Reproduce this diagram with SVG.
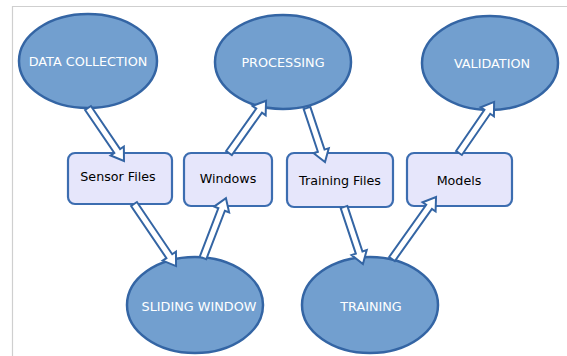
<svg xmlns="http://www.w3.org/2000/svg" width="567" height="356" viewBox="0 0 567 356">
<style>
.bg{fill:#fff}
.frame{fill:none;stroke:#cfcfcf;stroke-width:1.2}
.ell{fill:#729fcf;stroke:#3465a4;stroke-width:2.5}
.box{fill:#e6e6fb;stroke:#3c6db0;stroke-width:2.2}
.et{font-family:"DejaVu Sans",sans-serif;font-size:12.8px;fill:#fff;text-anchor:middle}
.bt{font-family:"DejaVu Sans",sans-serif;font-size:12.7px;fill:#000;text-anchor:middle}
.arr{fill:#fff;stroke:#3465a4;stroke-width:2;stroke-linejoin:miter}
</style>
<rect class="bg" x="0" y="0" width="567" height="356"/>
<path class="frame" d="M12.5,356 V6.5 H567"/>
<g id="data-collection"><ellipse class="ell" cx="88" cy="61" rx="69" ry="47"/><text class="et" x="88" y="66">DATA COLLECTION</text></g>
<g id="processing"><ellipse class="ell" cx="283" cy="62" rx="68" ry="47"/><text class="et" x="283" y="67">PROCESSING</text></g>
<g id="validation"><ellipse class="ell" cx="490" cy="63" rx="68" ry="47"/><text class="et" x="492" y="68">VALIDATION</text></g>
<g id="sliding-window"><ellipse class="ell" cx="195" cy="305" rx="68" ry="48"/><text class="et" x="199" y="311">SLIDING WINDOW</text></g>
<g id="training"><ellipse class="ell" cx="370" cy="305" rx="68" ry="48"/><text class="et" x="371" y="311">TRAINING</text></g>
<g id="sensor-files"><rect class="box" x="68" y="153" width="104" height="51" rx="7"/><text class="bt" x="118" y="181">Sensor Files</text></g>
<g id="windows"><rect class="box" x="184" y="153" width="88" height="53" rx="7"/><text class="bt" x="228" y="183">Windows</text></g>
<g id="training-files"><rect class="box" x="287" y="153" width="106" height="54" rx="7"/><text class="bt" x="340" y="185">Training Files</text></g>
<g id="models"><rect class="box" x="407" y="153" width="105" height="53" rx="7"/><text class="bt" x="459" y="185">Models</text></g>
<g id="connectors">
<polygon class="arr" transform="translate(88,108) rotate(55.8)" points="0,-3.5 52,-3.5 52,-8 64,0 52,8 52,3.5 0,3.5"/>
<polygon class="arr" transform="translate(134,204) rotate(55.9)" points="0,-3.5 63,-3.5 63,-8 75,0 63,8 63,3.5 0,3.5"/>
<polygon class="arr" transform="translate(203,258) rotate(-69)" points="0,-3.5 52,-3.5 52,-8 64,0 52,8 52,3.5 0,3.5"/>
<polygon class="arr" transform="translate(229,153) rotate(-54.6)" points="0,-3.5 52,-3.5 52,-8 64,0 52,8 52,3.5 0,3.5"/>
<polygon class="arr" transform="translate(307,108) rotate(71.6)" points="0,-3.5 45,-3.5 45,-8 57,0 45,8 45,3.5 0,3.5"/>
<polygon class="arr" transform="translate(344,207) rotate(71.6)" points="0,-3.5 48,-3.5 48,-8 60,0 48,8 48,3.5 0,3.5"/>
<polygon class="arr" transform="translate(392,259) rotate(-54.6)" points="0,-3.5 64,-3.5 64,-8 76,0 64,8 64,3.5 0,3.5"/>
<polygon class="arr" transform="translate(459,153) rotate(-55.5)" points="0,-3.5 50,-3.5 50,-8 62,0 50,8 50,3.5 0,3.5"/>
</g>
</svg>
